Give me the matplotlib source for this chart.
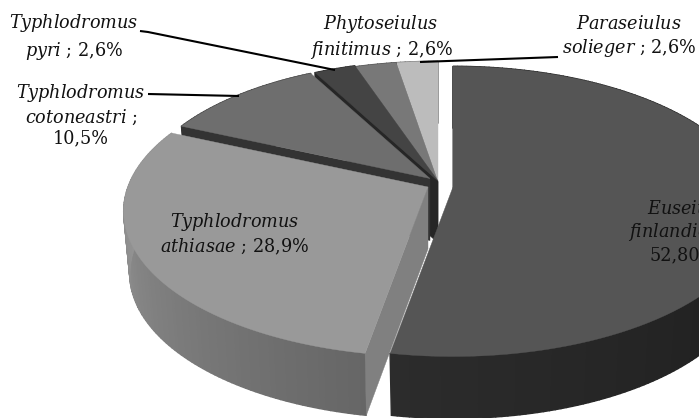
import matplotlib
matplotlib.use("Agg")
import matplotlib.pyplot as plt
import numpy as np

# share of each mite species, clockwise from 12 o'clock
species = ["Euseius finlandicus", "Typhlodromus athiasae", "Typhlodromus cotoneastri",
           "Typhlodromus pyri", "Phytoseiulus finitimus", "Paraseiulus solieger"]
shares = [52.8, 28.9, 10.5, 2.6, 2.6, 2.6]

label_texts = [
    r"$\mathit{Euseius}$" + "\n" + r"$\mathit{finlandicus}$ ;" + "\n52,80%",
    r"$\mathit{Typhlodromus}$" + "\n" + r"$\mathit{athiasae}$ ; 28,9%",
    r"$\mathit{Typhlodromus}$" + "\n" + r"$\mathit{cotoneastri}$ ;" + "\n10,5%",
    r"$\mathit{Typhlodromus}$" + "\n" + r"$\mathit{pyri}$ ; 2,6%",
    r"$\mathit{Phytoseiulus}$" + "\n" + r"$\mathit{finitimus}$ ; 2,6%",
    r"$\mathit{Paraseiulus}$" + "\n" + r"$\mathit{solieger}$ ; 2,6%",
]
label_pos = [(683, 232), (235, 234), (81, 115), (74, 37), (381, 37), (629, 37)]
label_spacing = [1.2, 1.25, 1.2, 1.4, 1.2, 1.2]

# look of the slices
top_colors = ["#555555", "#999999", "#6e6e6e", "#444444", "#787878", "#bcbcbc"]
face_colors = ["#333333", "#808080", "#333333", "#262626", "#4a4a4a", "#6a6a6a"]
wall_colors = [("#1b1b1b", "#2c2c2c"), ("#666666", "#939393"), ("#333333", "#333333"),
               ("#222222", "#222222"), ("#444444", "#444444"), ("#666666", "#666666")]
apex = [(453, 187), (428, 187), (430, 178.5), (438, 181), (438, 182), (438, 182)]
scale = [1.0, 1.0, 0.97, 1.0, 1.0, 1.0]

RX, RY, PERSP, DEPTH, BOTTOM_X = 300, 141, 0.168, 62, 0.98

leaders = [([140, 148, 335], [31, 32, 70]),
           ([148, 239], [94, 96]),
           ([420, 558], [62, 57])]

plt.rcParams["font.family"] = "DejaVu Serif"
plt.rcParams["mathtext.fontset"] = "custom"
plt.rcParams["mathtext.it"] = "DejaVu Serif:italic"
plt.rcParams["mathtext.rm"] = "DejaVu Serif"


def project(deg, center, s):
    # circle seen in perspective, the near edge comes out larger
    t = np.radians(deg)
    u, v = np.sin(t), np.cos(t)
    den = 1 + PERSP * v
    return center[0] + s * RX * u / den, center[1] - s * RY * v / den


def gray(c):
    return int(c[1:3], 16)


fig = plt.figure(figsize=(6.99, 4.18), dpi=100)
ax = fig.add_axes([0, 0, 1, 1])
ax.set_xlim(0, 699)
ax.set_ylim(418, 0)
ax.axis("off")

edges = np.cumsum([0] + shares) * 3.6

# back slices first, front ones paint over them
for i in range(len(shares) - 1, -1, -1):
    a0, a1 = edges[i], edges[i + 1]
    cen, s = apex[i], scale[i]

    # outer wall as thin strips so the shade can run along the arc
    steps = np.linspace(a0, a1, max(int(a1 - a0), 2) + 1)
    g0, g1 = gray(wall_colors[i][0]), gray(wall_colors[i][1])
    for k in range(len(steps) - 1):
        xa, ya = project(steps[k], cen, s)
        xb, yb = project(steps[k + 1], cen, s)
        xa2 = cen[0] + (xa - cen[0]) * BOTTOM_X
        xb2 = cen[0] + (xb - cen[0]) * BOTTOM_X
        shade = (g0 + (g1 - g0) * min(max((steps[k] - a0) / max(min(a1, 270) - a0, 1), 0), 1)) / 255
        if i == 0:
            shade = (g0 + (g1 - g0) * (steps[k] - 90) / 100) / 255 if steps[k] > 90 else g0 / 255
        ax.fill([xa, xb, xb2, xa2], [ya, yb, yb + DEPTH, ya + DEPTH],
                color=str(shade), lw=1.0)

    # cut face along the start edge
    xe, ye = project(a0, cen, s)
    xe2 = cen[0] + (xe - cen[0]) * BOTTOM_X
    ax.fill([cen[0], xe, xe2, cen[0]], [cen[1], ye, ye + DEPTH, cen[1] + DEPTH],
            color=face_colors[i], lw=0.3)

    # top of the slice
    arc = np.linspace(a0, a1, 100)
    xs, ys = project(arc, cen, s)
    ax.fill(np.r_[cen[0], xs], np.r_[cen[1], ys], color=top_colors[i], lw=0.3)

for lx, ly in leaders:
    ax.plot(lx, ly, color="black", lw=1.5, solid_capstyle="butt")

for txt, (x, y), sp in zip(label_texts, label_pos, label_spacing):
    ax.text(x, y, txt, ha="center", va="center", fontsize=12.7, color="#111111",
            linespacing=sp, clip_on=False)

fig.savefig("out.png", dpi=100)
plt.close()
